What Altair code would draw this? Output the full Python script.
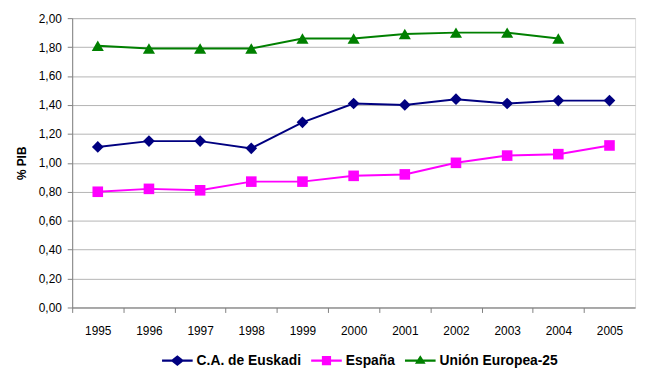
import altair as alt
import pandas as pd

years = ["1995", "1996", "1997", "1998", "1999", "2000", "2001", "2002", "2003", "2004", "2005"]
series_names = ["C.A. de Euskadi", "España", "Unión Europea-25"]
euskadi = [1.11, 1.15, 1.15, 1.10, 1.28, 1.41, 1.40, 1.44, 1.41, 1.43, 1.43]
espana = [0.80, 0.82, 0.81, 0.87, 0.87, 0.91, 0.92, 1.00, 1.05, 1.06, 1.12]
ue25 = [1.81, 1.79, 1.79, 1.79, 1.86, 1.86, 1.89, 1.90, 1.90, 1.86, None]
y_ticks = [0.0, 0.2, 0.4, 0.6, 0.8, 1.0, 1.2, 1.4, 1.6, 1.8, 2.0]

colors = ["#000080", "#FF00FF", "#008000"]
shapes = ["diamond", "square", "triangle-up"]
marker_sizes = [140, 115, 150]
legend_paths = [
    "M-1,-0.07L-0.35,-0.07L0,-0.35L0.35,-0.07L1,-0.07L1,0.07L0.35,0.07L0,0.35L-0.35,0.07L-1,0.07Z",
    "M-1,-0.07L-0.3,-0.07L-0.3,-0.3L0.3,-0.3L0.3,-0.07L1,-0.07L1,0.07L0.3,0.07L0.3,0.3L-0.3,0.3L-0.3,0.07L-1,0.07Z",
    "M-1,-0.07L-0.178,-0.07L0,-0.35L0.178,-0.07L1,-0.07L1,0.07L0.267,0.07L0.35,0.2L-0.35,0.2L-0.267,0.07L-1,0.07Z",
]

rows = []
for name, vals in zip(series_names, [euskadi, espana, ue25]):
    for yr, v in zip(years, vals):
        if v is not None:
            rows.append({"year": yr, "value": v, "series": name})
df = pd.DataFrame(rows)

FONT = "Liberation Sans"

x_enc = alt.X(
    "year:O",
    sort=years,
    scale=alt.Scale(type="point", padding=0.5, domain=years),
    axis=alt.Axis(
        title=None,
        labelFontSize=12,
        labelFont=FONT,
        labelColor="black",
        labelAngle=0,
        labelPadding=13,
        tickOffset=-25.9,
        labelOffset=25.9,
        tickSize=5,
        tickColor="#808080",
        domainColor="#808080",
        grid=False,
    ),
)
y_enc = alt.Y(
    "value:Q",
    scale=alt.Scale(domain=[0, 2], nice=False, zero=True),
    axis=alt.Axis(
        title="% PIB",
        titleFont=FONT,
        titleFontSize=12,
        titleFontWeight="bold",
        titleColor="black",
        titlePadding=10,
        values=y_ticks,
        labelExpr="replace(format(datum.value, '.2f'), '.', ',')",
        labelFont=FONT,
        labelFontSize=12,
        labelColor="black",
        labelPadding=6,
        tickSize=5,
        tickColor="#808080",
        domainColor="#808080",
        grid=True,
        gridColor="#B4B4B4",
        gridWidth=1,
    ),
)

layers = []
for name, col, shp, sz in zip(series_names, colors, shapes, marker_sizes):
    sub = alt.Chart(df).transform_filter(alt.datum.series == name)
    layers.append(sub.mark_line(color=col, strokeWidth=2).encode(x=x_enc, y=y_enc))
    layers.append(
        sub.mark_point(filled=True, color=col, shape=shp, size=sz, opacity=1).encode(x=x_enc, y=y_enc)
    )

legend_cfg = dict(
    title=None,
    orient="none",
    legendX=91,
    legendY=331,
    direction="horizontal",
    labelFont=FONT,
    labelFontSize=14,
    labelFontWeight="bold",
    labelColor="black",
    labelOffset=4,
    columnPadding=10,
    symbolSize=961,
    symbolStrokeWidth=0,
    padding=0,
)

legend_layer = (
    alt.Chart(df)
    .transform_filter("false")
    .mark_point(filled=True, opacity=1)
    .encode(
        x=x_enc,
        y=y_enc,
        color=alt.Color(
            "series:N",
            scale=alt.Scale(domain=series_names, range=colors),
            legend=alt.Legend(**legend_cfg),
        ),
        shape=alt.Shape(
            "series:N",
            scale=alt.Scale(domain=series_names, range=legend_paths),
            legend=alt.Legend(**legend_cfg),
        ),
    )
)

chart = (
    alt.layer(*layers, legend_layer)
    .properties(
        width=570,
        height=293,
        autosize=alt.AutoSizeParams(type="none"),
        padding={"left": 65, "top": 8, "right": 6, "bottom": 60},
    )
    .configure_view(stroke=None)
    .configure(background="white")
)

chart.save("out.html", embed_options={"renderer": "svg", "actions": False})
